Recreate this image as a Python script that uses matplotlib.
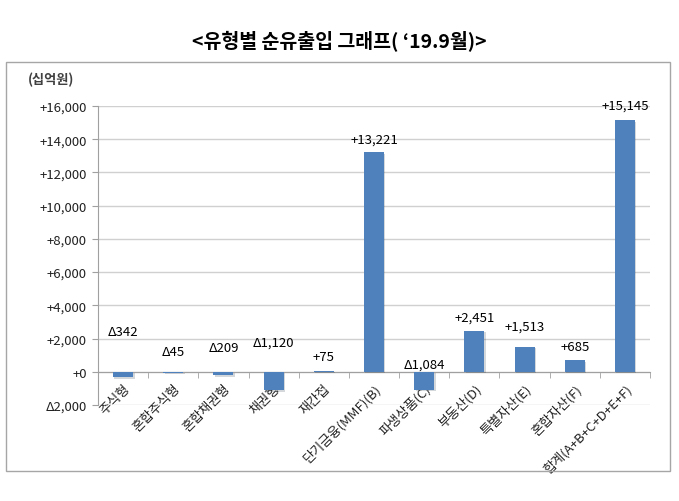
import matplotlib
matplotlib.use('Agg')
import matplotlib.pyplot as plt
from matplotlib.patches import Rectangle
import matplotlib.patheffects as pe
import matplotlib.transforms as mtransforms
import numpy as np

plt.rcParams['font.family'] = ['Noto Sans CJK KR', 'DejaVu Sans']

# 유형별 순유출입 (십억원)
categories = ['주식형', '혼합주식형', '혼합채권형', '채권형', '재간접', '단기금융(MMF)(B)',
              '파생상품(C)', '부동산(D)', '특별자산(E)', '혼합자산(F)', '합계(A+B+C+D+E+F)']
values = [-342, -45, -209, -1120, 75, 13221, -1084, 2451, 1513, 685, 15145]
value_labels = ['Δ342', 'Δ45', 'Δ209', 'Δ1,120', '+75', '+13,221',
                'Δ1,084', '+2,451', '+1,513', '+685', '+15,145']
# label heights as placed in the original chart
label_heights = [2400, 1200, 1450, 1800, 900, 14000, 480, 3300, 2770, 1500, 16050]
y_ticks = [-2000, 0, 2000, 4000, 6000, 8000, 10000, 12000, 14000, 16000]
y_tick_labels = ['Δ2,000', '+0', '+2,000', '+4,000', '+6,000', '+8,000',
                 '+10,000', '+12,000', '+14,000', '+16,000']

fig = plt.figure(figsize=(6.79, 5.02), dpi=100)

# outer frame
fig.patches.append(Rectangle((6 / 679, 1 - 472 / 502), 664 / 679, 409 / 502,
                             transform=fig.transFigure, fill=False,
                             edgecolor='#a6a6a6', linewidth=1.0))

fig.text(0.5, 1 - 42 / 502, '<유형별 순유출입 그래프( \u201819.9월)>',
         ha='center', va='center', fontsize=14, fontweight='bold')
fig.text(28 / 679, 1 - 80 / 502, '(십억원)', ha='left', va='center',
         fontsize=9.5, fontweight='bold', color='#404040')

ax = fig.add_axes([98 / 679, 1 - 406 / 502, 552 / 679, 299 / 502])
ax.spines['bottom'].set_position(('data', 0))
ax.spines['bottom'].set_color('#a0a0a0')
ax.spines['left'].set_color('#a0a0a0')
ax.spines['top'].set_visible(False)
ax.spines['right'].set_visible(False)

x = np.arange(len(categories))
bars = ax.bar(x, values, width=0.4, color='#4f81bd', zorder=3)
for b in bars:
    b.set_path_effects([pe.SimplePatchShadow(offset=(1, -1), alpha=0.18), pe.Normal()])

for xi, h, t in zip(x, label_heights, value_labels):
    ax.text(xi, h, t, ha='center', va='center', fontsize=9.5, clip_on=False, zorder=4)

ax.set_xlim(-0.5, len(categories) - 0.5)
ax.set_ylim(-2000, 16000)
ax.set_yticks(y_ticks)
ax.set_yticklabels(y_tick_labels, fontsize=9.5, color='#222222')
ax.yaxis.grid(True, color='#d0d0d0', linewidth=1.0, zorder=0)
ax.tick_params(axis='y', length=4, color='#a0a0a0', pad=4)

ax.set_xticks(x)
ax.set_xticklabels(categories, rotation=45, ha='right', rotation_mode='anchor',
                   fontsize=9.5, color='#222222')
shift = mtransforms.ScaledTranslation(6 / 100, 0, fig.dpi_scale_trans)
for lbl in ax.get_xticklabels():
    lbl.set_transform(lbl.get_transform() + shift)
ax.set_xticks(np.arange(len(categories) + 1) - 0.5, minor=True)
ax.tick_params(axis='x', which='major', length=0, pad=7)
ax.tick_params(axis='x', which='minor', length=4, color='#a0a0a0')

fig.savefig('out.png', dpi=100)
